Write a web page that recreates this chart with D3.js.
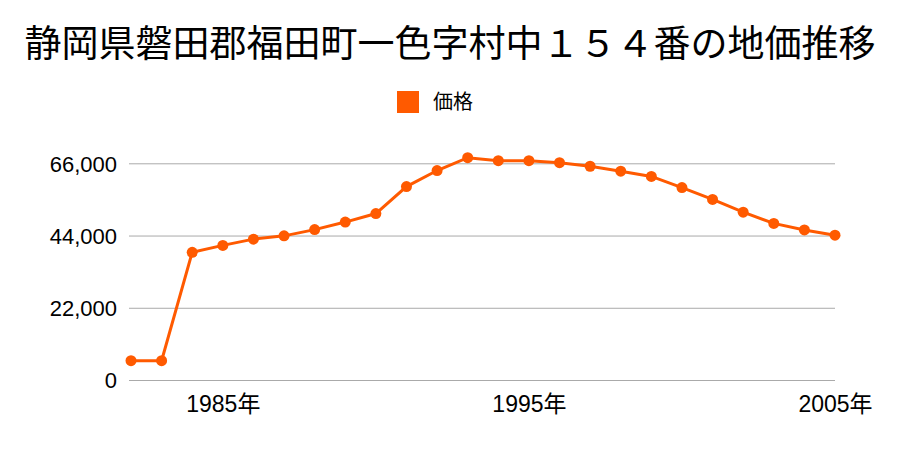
<!DOCTYPE html>
<html><head><meta charset="utf-8">
<script src="https://cdn.jsdelivr.net/npm/d3@7"></script>
<style>body{margin:0;background:#fff}</style>
</head><body>
<svg id="c" width="900" height="450"></svg>
<script>
const title = "静岡県磐田郡福田町一色字村中１５４番の地価推移";
const seriesName = "価格";
const years = [1982,1983,1984,1985,1986,1987,1988,1989,1990,1991,1992,1993,1994,1995,1996,1997,1998,1999,2000,2001,2002,2003,2004,2005];
const prices = [5900,5900,38900,41000,42900,43900,45800,48100,50700,58900,63800,67700,66800,66800,66200,65100,63600,62000,58600,55000,51100,47700,45700,44100];
const yTicks = [0,22000,44000,66000];
const xTickYears = [1985,1995,2005];

const svg = d3.select("#c");
const font = "'Noto Sans CJK JP','Noto Sans',sans-serif";
const numFont = "'Liberation Sans','Noto Sans CJK JP',sans-serif";
const color = "#ff5a00";
const x = d3.scaleLinear().domain([1982,2005]).range([131,835]);
const y = d3.scaleLinear().domain([0,66000]).range([380,163.3]);

svg.append("text").attr("x",450).attr("y",57).attr("text-anchor","middle")
  .attr("font-family",font).attr("font-size",37).attr("fill","#000").text(title);

svg.append("rect").attr("x",397).attr("y",91).attr("width",22).attr("height",22).attr("fill",color);
svg.append("text").attr("x",433).attr("y",109).attr("font-family",font).attr("font-size",20).attr("fill","#000").text(seriesName);

const yAxis = d3.axisLeft(y).tickValues(yTicks).tickSize(-(835-129)).tickFormat(d3.format(","));
const gy = svg.append("g").attr("transform","translate(129,0)").call(yAxis);
gy.select(".domain").remove();
gy.selectAll("line").attr("stroke","#aaa").attr("stroke-width",1);
gy.selectAll("text").attr("font-family",numFont).attr("font-size",22).attr("fill","#000").attr("x",-12).attr("dy","0.35em");

const xAxis = d3.axisBottom(x).tickValues(xTickYears).tickSize(0).tickFormat(d=>d+"年");
const gx = svg.append("g").attr("transform","translate(0,380)").call(xAxis);
gx.select(".domain").remove();
gx.selectAll("text").attr("font-family",numFont).attr("font-size",23).attr("fill","#000").attr("y",0).attr("dy","1.4em");

const line = d3.line().x((d,i)=>x(years[i])).y(d=>y(d));
svg.append("path").datum(prices).attr("d",line).attr("fill","none").attr("stroke",color).attr("stroke-width",3);
svg.selectAll("circle.pt").data(prices).enter().append("circle").attr("class","pt")
  .attr("cx",(d,i)=>x(years[i])).attr("cy",d=>y(d)).attr("r",5.5).attr("fill",color);
</script>
</body></html>
